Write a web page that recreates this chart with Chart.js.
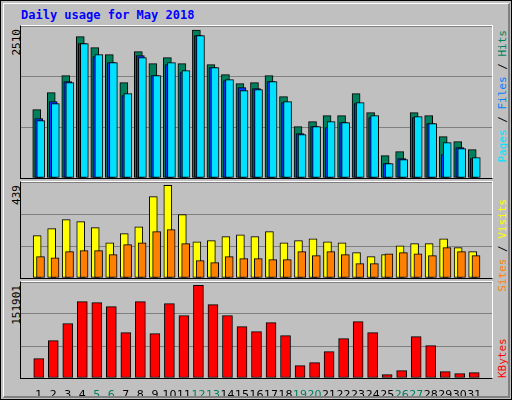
<!DOCTYPE html>
<html><head><meta charset="utf-8">
<script src="https://cdn.jsdelivr.net/npm/chart.js@4"></script>
<style>
body{margin:0;background:#fff}
#wrap{position:absolute;left:0;top:0;width:510px;height:398px;background:#c0c0c0;border:1px solid #000;overflow:hidden}
#in{position:absolute;left:2px;top:2px;width:504px;height:392px;border-right:2px solid #808080;border-bottom:2px solid #808080;border-top:1px solid #fff;border-left:1px solid #fff}
canvas{position:absolute}
.frame{position:absolute;border-top:1px solid #fff;border-right:1px solid #fff;border-left:1px solid #000;border-bottom:1px solid #000;box-sizing:border-box;pointer-events:none}
.t{position:absolute;font-family:"DejaVu Sans Mono",monospace;font-size:11px;white-space:nowrap;line-height:11px}
.rt{transform-origin:0 0;transform:rotate(-90deg) translateX(-100%)}
.rb{transform-origin:0 0;transform:rotate(-90deg)}
</style></head><body>
<div id="wrap"><div id="in"></div>
<div class="t" style="left:20px;top:9px;color:#0000ff;font-weight:bold;font-size:12px">Daily usage for May 2018</div>
<div class="t rt" style="left:10px;top:28px;color:#000">2510</div>
<div class="t rt" style="left:10px;top:184px;color:#000">439</div>
<div class="t rt" style="left:10px;top:284px;color:#000">151901</div>
<div class="t rt" style="left:496px;top:29px"><span style="color:#00e0ff">Pages</span> / <span style="color:#0080ff">Files</span> / <span style="color:#00805c">Hits</span></div>
<div class="t rt" style="left:496px;top:198px"><span style="color:#ff8000">Sites</span> / <span style="color:#ffff00">Visits</span></div>
<div class="t rb" style="left:496px;top:377px;color:#ff0000">KBytes</div>
<canvas id="c1" width="471" height="152" style="left:20px;top:25px"></canvas>
<canvas id="c2" width="471" height="96" style="left:20px;top:181px"></canvas>
<canvas id="c3" width="471" height="114" style="left:20px;top:281px"></canvas>
<div class="frame" style="left:19px;top:24px;width:473px;height:154px"></div>
<div class="frame" style="left:19px;top:180px;width:473px;height:98px"></div>
<div class="frame" style="left:19px;top:280px;width:473px;height:98px"></div>
</div>
<script>
const days = Array.from({length:31},(_,i)=>i+1);
const weekend = [5,6,12,13,19,20,26,27];
const hits  = [1159,1447,1736,2397,2211,2092,1617,2143,1939,2041,1939,2510,1922,1753,1600,1617,1736,1380,871,956,1057,1057,1430,1108,379,447,1108,1057,701,616,481];
const files = [1006,1295,1634,2279,2058,1956,1397,2075,1736,1922,1787,2414,1871,1651,1532,1515,1634,1278,752,871,854,939,1261,1023,243,328,1023,922,396,515,328];
const pages = [972,1261,1617,2279,2092,1956,1430,2041,1736,1956,1821,2414,1871,1668,1481,1498,1634,1295,735,871,956,939,1278,1057,243,311,1040,922,599,498,345];
const visits= [201,234,277,267,239,167,210,243,386,439,300,172,177,196,205,196,220,167,177,186,172,167,120,101,111,153,163,163,186,144,125];
const sites = [101,96,125,130,130,111,158,167,220,229,163,82,73,101,92,92,87,87,125,106,125,111,68,68,115,120,115,106,144,125,106];
const kbytes= [31680,61170,89030,125080,123440,116890,74280,125080,72640,121800,102140,151901,120160,102140,84110,75920,90670,69370,20210,25120,43150,64450,92310,74280,5460,12020,67730,52980,10380,7100,8740];
const maxes = {top:2578, mid:455, bot:157300};

function pts(vals, off){return vals.map((v,i)=>({x:days[i]+off,y:v}));}
function ds(vals,off,color,w){return {data:pts(vals,off),backgroundColor:color,borderColor:'#000',borderWidth:1,barThickness:w,borderSkipped:false,grouped:false};}
function opts(max, showX){
  return {responsive:false,animation:false,devicePixelRatio:1,
    layout:{padding:0},
    plugins:{legend:{display:false},tooltip:{enabled:false}},
    scales:{
      x:{type:'linear',min:0.3,max:31.7,display:showX,
        grid:{display:false},border:{display:false},
        afterBuildTicks:s=>{s.ticks=days.map(v=>({value:v}));},
        afterFit:s=>{s.height=showX?18:0;},
        ticks:{autoSkip:false,maxRotation:0,padding:3,font:{family:'DejaVu Sans',size:11},
          color:c=>weekend.includes(c.tick.value)?'#008060':'#000',
          callback:v=>String(v)}},
      y:{min:0,max:max,afterFit:s=>{s.width=0;},
        ticks:{display:false,stepSize:max/3},border:{display:false},
        grid:{color:'#808080',drawTicks:false,lineWidth:1}}
    }};
}
new Chart(document.getElementById('c1'),{type:'bar',data:{datasets:[
  ds(pages,0.14,'#00e0ff',8), ds(files,0,'#0040ff',8), ds(hits,-0.14,'#00805c',8)]},options:opts(maxes.top,false)});
new Chart(document.getElementById('c2'),{type:'bar',data:{datasets:[
  ds(sites,0.12,'#ff8000',8), ds(visits,-0.11,'#ffff00',8)]},options:opts(maxes.mid,false)});
new Chart(document.getElementById('c3'),{type:'bar',data:{datasets:[
  ds(kbytes,0,'#ff0000',10)]},options:opts(maxes.bot,true)});
</script>
</body></html>
